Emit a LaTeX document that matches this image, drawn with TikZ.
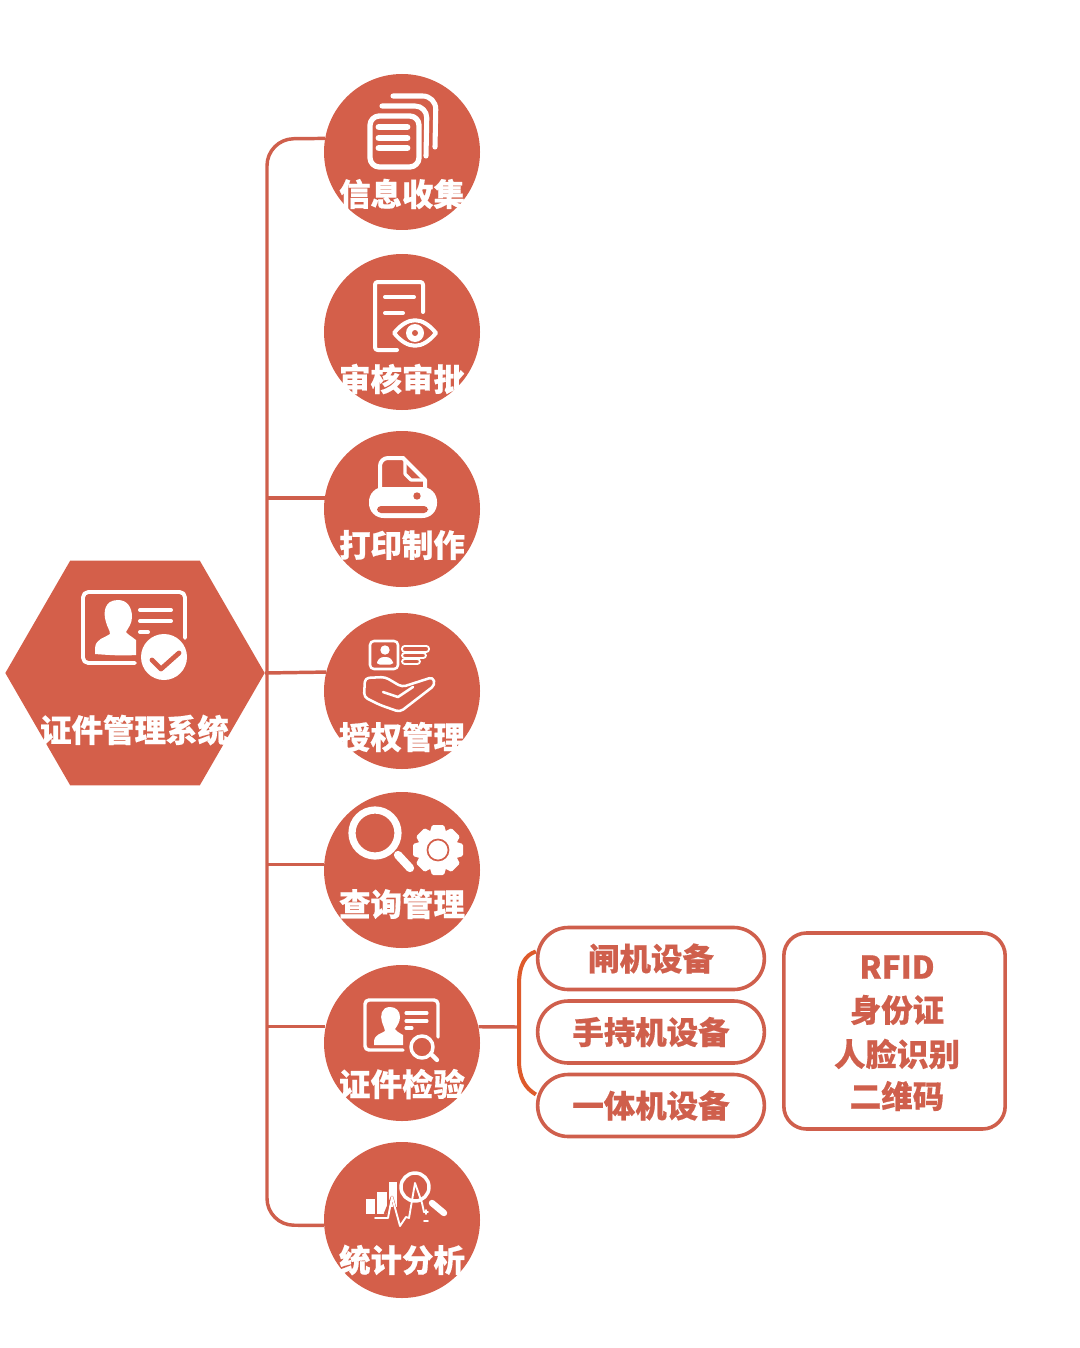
\documentclass[tikz,border=0pt]{standalone}
\usepackage{fontspec}
\setmainfont{Noto Sans CJK SC}[BoldFeatures={FakeBold=0.5}]
\usetikzlibrary{shapes.geometric,calc}
\definecolor{brick}{HTML}{D45F4A}
\definecolor{brickline}{HTML}{CF5F4C}
\definecolor{bracket}{HTML}{DE5A2B}
\tikzset{
  roundnode/.style={circle,fill=brick,minimum size=117pt,inner sep=0pt},
  hexnode/.style={regular polygon,regular polygon sides=6,fill=brick,minimum size=194.5pt,inner sep=0pt},
  lab/.style={font=\fontsize{23.6}{28}\selectfont\bfseries,text=white,inner sep=0pt},
  devlab/.style={lab,text=brickline},
  devbox/.style={draw=brickline,line width=2.7pt,rounded corners=23pt,minimum width=170pt,minimum height=46.5pt,inner sep=0pt,font=\fontsize{23.6}{28}\selectfont\bfseries,text=brickline},
  techbox/.style={draw=brickline,line width=2.7pt,rounded corners=17pt,minimum width=166pt,minimum height=147pt,inner sep=0pt},
  link/.style={draw=brickline,line width=2.6pt},
  brace/.style={draw=bracket,line width=3pt},
  ol/.style={draw=white,line width=3pt,line cap=round,line join=round},
  thin/.style={draw=white,line width=1.9pt,line cap=round,line join=round},
  bar/.style={draw=white,line width=4pt,line cap=round},
}
\begin{document}
\begin{tikzpicture}[x=0.75pt,y=-0.75pt]
\useasboundingbox (0,0) rectangle (1080,1348);
% main nodes
\node[hexnode] (hex) at (135,673) {};
\node[roundnode] (c1) at (402,152) {};
\node[roundnode] (c2) at (402,332) {};
\node[roundnode] (c3) at (402,509) {};
\node[roundnode] (c4) at (402,691) {};
\node[roundnode] (c5) at (402,870) {};
\node[roundnode] (c6) at (402,1043) {};
\node[roundnode] (c7) at (402,1220) {};
% labels
\node[lab] (t0) at (134.5,730) {证件管理系统};
\node[lab] (t1) at (402,194) {信息收集};
\node[lab] (t2) at (402,379) {审核审批};
\node[lab] (t3) at (402,545) {打印制作};
\node[lab] (t4) at (402,737) {授权管理};
\node[lab] (t5) at (402,904) {查询管理};
\node[lab] (t6) at (402,1084) {证件检验};
\node[lab] (t7) at (402,1260) {统计分析};
% devices
\node[devbox] (d1) at (651,958.5) {闸机设备};
\node[devbox] (d2) at (651,1032) {手持机设备};
\node[devbox] (d3) at (651,1105.5) {一体机设备};
\node[techbox,align=center] (tech) at (894.5,1031) {};
\node[devlab] (l1) at (897,967) {RFID};
\node[devlab] (l2) at (897,1010) {身份证};
\node[devlab] (l3) at (897,1054) {人脸识别};
\node[devlab] (l4) at (897,1096) {二维码};
% connectors
\coordinate (busA) at (267,139);
\coordinate (busB) at (267,1225);
\coordinate (fork) at (519,1027);
\draw[link,rounded corners=20pt] (c1.170) -- (busA) -- (busB) -- (c7.184);
\draw[link] (c3.172) -- (c3.172 -| busA);
\draw[link] (hex.east) -- (c4.166);
\draw[link] (c5.176) -- (c5.176 -| busA);
\draw[link] (c6.168) -- (c6.168 -| busA);
\draw[link] (c6.12) -- (fork);
\draw[brace] ($(d1.west)+(0,-7)$) .. controls (525,955) and (519,965) .. (519,985) -- (519,1060) .. controls (519,1078) and (525,1088) .. ($(d3.west)+(0,-11)$);
% icon: hexagon card
\draw[ol,line width=2.9pt,rounded corners=4pt] (135,663) -- (83,663) -- (83,592) -- (185,592) -- (185,638);
\fill[white] (118,600) .. controls (104,600) and (103,613) .. (106,622) .. controls (107,627) and (110,630) .. (110,634)
  .. controls (105,638) and (96,638) .. (95,648) -- (95,654) .. controls (108,655) and (122,656) .. (136,655) -- (136,640) .. controls (131,636) and (127,634) .. (126,632)
  .. controls (128,628) and (132,624) .. (132,617) .. controls (132,607) and (127,600) .. (118,600) -- cycle;
\draw[bar,line width=3pt] (140,610) -- (171,610);
\draw[bar,line width=3pt] (140,621) -- (171,621);
\draw[bar,line width=3pt] (140,632) -- (148,632);
\fill[white] (164,657) circle (23);
\draw[draw=brick,line width=3.6pt,line cap=round,line join=round] (152,660) -- (161,669) -- (179,653);
% icon 1: documents
\draw[ol,line width=4pt,rounded corners=7pt] (370,116) rectangle (419,167);
\draw[bar,line width=5.2pt] (379,127) -- (407,127);
\draw[bar,line width=5.2pt] (379,138) -- (407,138);
\draw[bar,line width=5.2pt] (379,148) -- (407,148);
\draw[ol,line width=3.8pt,rounded corners=9pt] (382,106) -- (427,106) -- (426,156);
\draw[ol,line width=3.8pt,rounded corners=10pt] (393,96) -- (436,96) -- (435,147);
% icon 2: document and eye
\draw[ol,rounded corners=2pt] (423,312) -- (423,282) -- (375,282) -- (375,350) -- (397,350);
\draw[bar,line width=3pt] (385,297) -- (414,297);
\draw[bar,line width=3pt] (385,313) -- (403,313);
\draw[ol] (394,333) .. controls (408,316) and (422,316) .. (436,333) .. controls (422,350) and (408,350) .. (394,333) -- cycle;
\fill[white] (415,333) circle (9);
\fill[brick] (415,333) circle (3);
% icon 3: printer
\draw[ol,rounded corners=6pt] (380,488) -- (380,458) -- (403,458);
\draw[ol] (403,458) -- (425,480) -- (425,488);
\draw[ol,line width=2.4pt] (405,460) -- (405,474) -- (411,480) -- (425,480);
\fill[white,rounded corners=11pt] (369,487) rectangle (437,518);
\fill[brick,rounded corners=3pt] (377,506) rectangle (428,513);
\fill[brick] (417,496) circle (3.7);
% icon 4: card and hand
\draw[thin,rounded corners=3pt] (370,641) rectangle (398,669);
\fill[white] (385,650) circle (4.7);
\fill[white,rounded corners=2pt] (377,664.5) -- (377,661) -- (381,657) -- (389,657) -- (393,661) -- (393,664.5) -- cycle;
\draw[thin,line width=1.4pt,rounded corners=2pt] (402,646) rectangle (429,652);
\draw[thin,line width=1.4pt,rounded corners=2pt] (402,653) rectangle (426,658);
\draw[thin,line width=1.4pt,rounded corners=2pt] (402,659) rectangle (420,664);
\draw[thin,rounded corners=3pt] (365,678) -- (385,677) -- (402,687) -- (433,677) -- (435,685) -- (400,712) -- (380,705) -- (364,697) -- cycle;
\draw[thin] (383,692) -- (398,697) -- (413,687);
% icon 5: magnifier and gear
\draw[ol,line width=5.4pt] (375,833) circle (23);
\draw[bar,line width=6.2pt] (398,855) -- (410,868);
\fill[white] (438,850) circle (20);
\foreach \a in {0,45,...,315}
  \fill[white,rotate around={\a:(438,850)},rounded corners=1pt] (429,835) -- (432,825) -- (444,825) -- (447,835) -- cycle;
\draw[draw=brick,line width=1.3pt] (438,850) circle (10.5);
% icon 6: card and lens
\draw[ol,line width=2.6pt,rounded corners=3pt] (403,1050) -- (365,1050) -- (365,1000) -- (438,1000) -- (438,1037);
\fill[white] (390,1007) .. controls (381,1007) and (380,1016) .. (382,1022) .. controls (383,1026) and (385,1028) .. (385,1031)
  .. controls (381,1034) and (375,1034) .. (374,1041) -- (374,1045) -- (403,1045) -- (403,1035) .. controls (398,1032) and (396,1031) .. (395,1029)
  .. controls (397,1026) and (400,1022) .. (400,1017) .. controls (400,1011) and (396,1007) .. (390,1007) -- cycle;
\draw[bar,line width=2.3pt] (406,1013) -- (427,1013);
\draw[bar,line width=2.3pt] (406,1021) -- (427,1021);
\draw[bar,line width=2.3pt] (406,1028) -- (412,1028);
\draw[ol,line width=2.6pt] (422,1047) circle (11);
\draw[bar,line width=3.2pt] (432,1055) -- (437,1060);
% icon 7: analysis
\fill[white] (366,1199) rectangle (375,1214);
\fill[white] (377,1192) rectangle (387,1214);
\fill[white] (389,1182) rectangle (397,1207);
\draw[draw=brick,line width=2pt,line join=round] (385,1214) -- (392,1197) -- (400,1226);
\draw[thin,line width=1.4pt] (375,1218) -- (388,1218) -- (392,1197) -- (400,1226) -- (406,1217) -- (409,1218) -- (415,1183) -- (422,1203) -- (424,1212);
\draw[ol,line width=2.6pt] (415,1187) circle (14);
\draw[bar,line width=4.8pt] (432,1203) -- (444,1213);
\draw[thin,line width=1.2pt] (424,1212) -- (428,1212) (426,1210) -- (426,1214) (424,1221) -- (428,1221);
\end{tikzpicture}
\end{document}
